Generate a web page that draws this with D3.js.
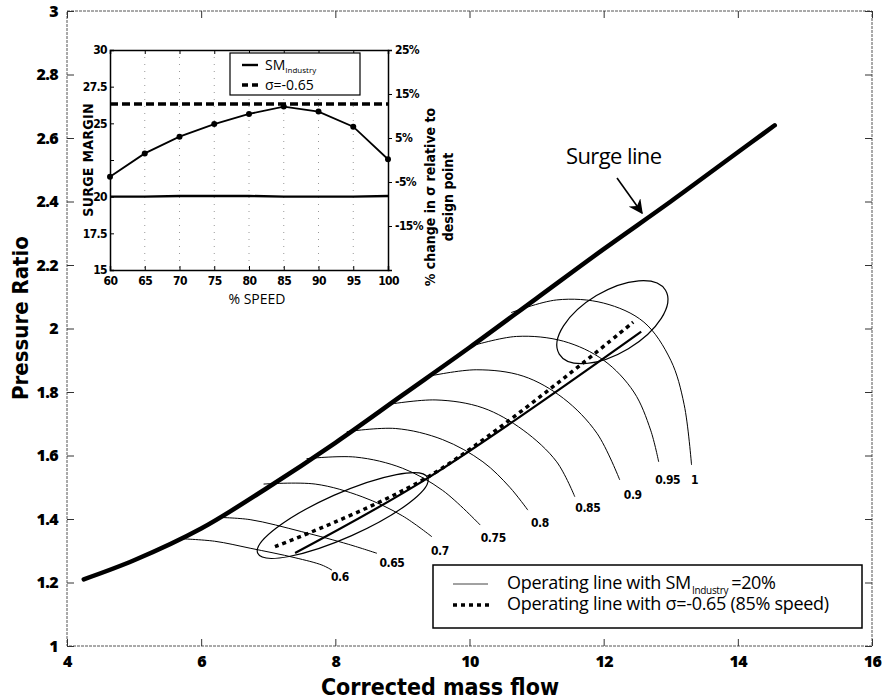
<!DOCTYPE html>
<html>
<head>
<meta charset="utf-8">
<script src="https://cdn.jsdelivr.net/npm/d3@7"></script>
<style>
  html, body { margin: 0; padding: 0; background: #fff; }
  svg { display: block; }
  text { fill: #000; }
</style>
</head>
<body>
<svg id="chart" width="884" height="700"></svg>
<script>
// ---------- compressor map data (corrected mass flow, pressure ratio) ----------
const xTicks = [4, 6, 8, 10, 12, 14, 16];
const yTicks = [1, 1.2, 1.4, 1.6, 1.8, 2, 2.2, 2.4, 2.6, 2.8, 3];

const surgeFlow  = [4.25, 5.0, 6.0, 7.0, 8.0, 9.0, 10.0, 11.0, 12.0, 13.0, 14.0, 14.55];
const surgeRatio = [1.21, 1.27, 1.37, 1.50, 1.64, 1.79, 1.94, 2.095, 2.25, 2.40, 2.555, 2.64];

const speedNames = ["0.6", "0.65", "0.7", "0.75", "0.8", "0.85", "0.9", "0.95", "1"];
const speedFlow = [
  [5.68, 6.2, 6.73, 7.4, 7.8, 7.95],
  [6.25, 6.73, 7.5, 8.2, 8.62],
  [6.93, 7.7, 8.4, 9.0, 9.44],
  [7.57, 8.3, 9.0, 9.6, 10.16],
  [8.17, 8.9, 9.6, 10.2, 10.6, 10.87],
  [8.76, 9.5, 10.2, 10.8, 11.3, 11.57],
  [9.4, 10.1, 10.8, 11.4, 11.9, 12.24],
  [10.03, 10.7, 11.4, 12.0, 12.45, 12.7, 12.82],
  [10.62, 11.3, 12.0, 12.6, 13.0, 13.2, 13.31]
];
const speedRatio = [
  [1.338, 1.33, 1.308, 1.278, 1.255, 1.239],
  [1.405, 1.398, 1.36, 1.32, 1.292],
  [1.51, 1.51, 1.47, 1.41, 1.344],
  [1.59, 1.595, 1.56, 1.49, 1.381],
  [1.675, 1.685, 1.65, 1.58, 1.50, 1.428],
  [1.76, 1.775, 1.75, 1.68, 1.58, 1.47],
  [1.85, 1.87, 1.85, 1.78, 1.67, 1.523],
  [1.945, 1.975, 1.96, 1.90, 1.80, 1.68, 1.58],
  [2.05, 2.09, 2.08, 2.02, 1.90, 1.76, 1.57]
];
// label placement relative to each speed line end, in pixels
const speedLabelDx = [8, 15, 8, 13, 12, 13, 13, 9, 3];
const speedLabelDy = [7, 10, 14, 13, 13, 11, 15, 18, 15];

// operating lines
const opIndustryFlow  = [7.4, 9.4, 12.56];
const opIndustryRatio = [1.293, 1.532, 1.99];
const opSigmaFlow  = [7.1, 9.4, 12.44];
const opSigmaRatio = [1.313, 1.535, 2.02];

// highlighted regions: centre (flow, ratio)
const regionFlow  = [8.11, 12.13];
const regionRatio = [1.411, 2.02];

// ---------- inset: surge margin vs % speed ----------
const pctSpeed = [60, 65, 70, 75, 80, 85, 90, 95, 100];
const smSigma   = [21.36, 22.95, 24.09, 24.95, 25.64, 26.14, 25.8, 24.77, 22.55];
const smIndustry = [20.0, 20.0, 20.05, 20.05, 20.05, 20.0, 20.0, 20.0, 20.05];
const sigmaChange = [12.7, 12.7, 12.7, 12.7, 12.7, 12.7, 12.7, 12.7, 12.7];
const insetLeftTicks = [15, 17.5, 20, 22.5, 25, 27.5, 30];
const insetLeftLabels = ["15", "17.5", "20", "", "25", "27.5", "30"];
const insetRightTicks = [-25, -15, -5, 5, 15, 25];
const insetRightLabels = ["", "-15%", "-5%", "5%", "15%", "25%"];

// ---------- drawing ----------
const svg = d3.select("#chart");
const M = { left: 67, right: 872, top: 11, bottom: 646 };
const x = d3.scaleLinear().domain([4, 16]).range([M.left, M.right]);
const y = d3.scaleLinear().domain([1, 3]).range([M.bottom, M.top]);

const boldFont = "'Open Sans', 'DejaVu Sans', sans-serif";
const narrowFont = "'Liberation Sans Narrow', 'DejaVu Sans Condensed', 'Liberation Sans', sans-serif";

// frame
svg.append("rect").attr("x", M.left).attr("y", M.top)
  .attr("width", M.right - M.left).attr("height", M.bottom - M.top)
  .attr("fill", "none").attr("stroke", "#555").attr("stroke-width", 1).attr("stroke-dasharray", "3,1");

// axes with inward ticks
const axB = d3.axisBottom(x).tickValues(xTicks).tickSize(-7).tickPadding(10).tickFormat(d3.format("d"));
const axT = d3.axisTop(x).tickValues(xTicks).tickSize(-7).tickFormat("");
const axL = d3.axisLeft(y).tickValues(yTicks).tickSize(-7).tickPadding(9).tickFormat(d => d3.format("")(d));
const axR = d3.axisRight(y).tickValues(yTicks).tickSize(-7).tickFormat("");

function styleAxis(g) {
  g.select(".domain").remove();
  g.selectAll(".tick line").attr("stroke", "#333");
  g.selectAll(".tick text").attr("font-family", boldFont).attr("font-weight", 800)
    .attr("font-size", 16).attr("letter-spacing", -0.6).attr("fill", "#000");
}
svg.append("g").attr("transform", `translate(0,${M.bottom})`).call(axB).call(styleAxis);
svg.append("g").attr("transform", `translate(0,${M.top})`).call(axT).call(styleAxis);
svg.append("g").attr("transform", `translate(${M.left},0)`).call(axL).call(styleAxis);
svg.append("g").attr("transform", `translate(${M.right},0)`).call(axR).call(styleAxis);

svg.append("text").attr("x", 440).attr("y", 695).attr("text-anchor", "middle")
  .attr("font-family", narrowFont).attr("font-weight", "bold").attr("font-size", 23)
  .text("Corrected mass flow");
svg.append("text").attr("transform", "translate(28,318) rotate(-90)").attr("text-anchor", "middle")
  .attr("font-family", narrowFont).attr("font-weight", "bold").attr("font-size", 22)
  .text("Pressure Ratio");

const line = (xs, ys, curve) => d3.line().x(d => x(d[0])).y(d => y(d[1])).curve(curve || d3.curveLinear)(d3.zip(xs, ys));

// speed lines
speedFlow.forEach((fl, i) => {
  svg.append("path").attr("d", line(fl, speedRatio[i], d3.curveCatmullRom.alpha(0.5)))
    .attr("fill", "none").attr("stroke", "#000").attr("stroke-width", 1);
  const n = fl.length - 1;
  svg.append("text").attr("x", x(fl[n]) + speedLabelDx[i]).attr("y", y(speedRatio[i][n]) + speedLabelDy[i])
    .attr("text-anchor", "middle").attr("dominant-baseline", "central")
    .attr("font-family", narrowFont).attr("font-weight", "bold")
    .attr("font-size", 12).attr("letter-spacing", -0.4).text(speedNames[i]);
});

// surge line
svg.append("path").attr("d", line(surgeFlow, surgeRatio, d3.curveCatmullRom.alpha(0.5)))
  .attr("fill", "none").attr("stroke", "#000").attr("stroke-width", 4.5).attr("stroke-linecap", "round");

// operating lines
svg.append("path").attr("d", line(opIndustryFlow, opIndustryRatio, d3.curveCatmullRom))
  .attr("fill", "none").attr("stroke", "#000").attr("stroke-width", 2.2);
svg.append("path").attr("d", line(opSigmaFlow, opSigmaRatio, d3.curveCatmullRom))
  .attr("fill", "none").attr("stroke", "#000").attr("stroke-width", 3.5).attr("stroke-dasharray", "4,4");

// highlighted regions
const regionShape = [{ rx: 93, ry: 22, rot: -24 }, { rx: 62, ry: 31, rot: -31 }];
regionFlow.forEach((f, i) => {
  svg.append("ellipse").attr("cx", 0).attr("cy", 0)
    .attr("rx", regionShape[i].rx).attr("ry", regionShape[i].ry)
    .attr("transform", `translate(${x(f)},${y(regionRatio[i])}) rotate(${regionShape[i].rot})`)
    .attr("fill", "none").attr("stroke", "#000").attr("stroke-width", 1.2);
});

// surge line annotation
svg.append("defs").append("marker").attr("id", "arrow").attr("viewBox", "0 0 10 10")
  .attr("refX", 9).attr("refY", 5).attr("markerWidth", 9).attr("markerHeight", 9)
  .attr("orient", "auto").append("path").attr("d", "M0,0 L10,5 L0,10 L3,5 Z").attr("fill", "#000");
svg.append("text").attr("x", 566).attr("y", 164).attr("font-family", boldFont).attr("font-weight", 500)
  .attr("font-size", 22).attr("letter-spacing", -0.6).text("Surge line");
svg.append("line").attr("x1", 617).attr("y1", 178).attr("x2", 642).attr("y2", 213)
  .attr("stroke", "#000").attr("stroke-width", 1.6).attr("marker-end", "url(#arrow)");

// main legend
const lg = svg.append("g");
lg.append("rect").attr("x", 433).attr("y", 565).attr("width", 429).attr("height", 63)
  .attr("fill", "#fff").attr("stroke", "#000").attr("stroke-width", 1.5);
lg.append("line").attr("x1", 453).attr("x2", 488).attr("y1", 584).attr("y2", 584)
  .attr("stroke", "#444").attr("stroke-width", 1);
lg.append("line").attr("x1", 453).attr("x2", 490).attr("y1", 605).attr("y2", 605)
  .attr("stroke", "#000").attr("stroke-width", 3.5).attr("stroke-dasharray", "4,4");
const t1 = lg.append("text").attr("x", 507).attr("y", 589).attr("font-family", boldFont).attr("font-size", 18)
  .attr("letter-spacing", -0.3);
t1.append("tspan").text("Operating line with SM");
t1.append("tspan").attr("font-size", 10).attr("dx", 1).attr("dy", 5).text("Industry");
t1.append("tspan").attr("dx", 3).attr("dy", -5).text("=20%");
lg.append("text").attr("x", 507).attr("y", 610).attr("font-family", boldFont).attr("font-size", 18)
  .attr("letter-spacing", -0.3).text("Operating line with σ=-0.65  (85% speed)");

// ---------- inset ----------
const I = { left: 110, right: 388, top: 50, bottom: 270 };
const ix = d3.scaleLinear().domain([60, 100]).range([I.left, I.right]);
const iy = d3.scaleLinear().domain([15, 30]).range([I.bottom, I.top]);
const iy2 = d3.scaleLinear().domain([-25, 25]).range([I.bottom, I.top]);
const inset = svg.append("g");

inset.append("rect").attr("x", I.left).attr("y", I.top).attr("width", I.right - I.left)
  .attr("height", I.bottom - I.top).attr("fill", "#fff");

// vertical dotted grid
inset.append("g").selectAll("line").data(pctSpeed.slice(1, -1)).join("line")
  .attr("x1", d => ix(d)).attr("x2", d => ix(d)).attr("y1", I.top).attr("y2", I.bottom)
  .attr("stroke", "#999").attr("stroke-width", 1).attr("stroke-dasharray", "1,6");

const insetTickFont = g => g.selectAll(".tick text").attr("font-family", narrowFont)
  .attr("font-weight", "bold").attr("font-size", 12).attr("letter-spacing", -0.6).attr("fill", "#000");

inset.append("g").attr("transform", `translate(0,${I.bottom})`)
  .call(d3.axisBottom(ix).tickValues(pctSpeed).tickSize(-4).tickPadding(6))
  .call(g => { g.select(".domain").attr("stroke", "#000").attr("stroke-width", 1.5); insetTickFont(g); });
inset.append("g").attr("transform", `translate(0,${I.top})`)
  .call(d3.axisTop(ix).tickValues(pctSpeed).tickSize(-4).tickFormat(""))
  .call(g => g.select(".domain").attr("stroke", "#000").attr("stroke-width", 1.5));
inset.append("g").attr("transform", `translate(${I.left},0)`)
  .call(d3.axisLeft(iy).tickValues(insetLeftTicks).tickSize(-4).tickPadding(3)
    .tickFormat((d, i) => insetLeftLabels[i]))
  .call(g => { g.select(".domain").attr("stroke", "#000").attr("stroke-width", 1.5); insetTickFont(g); });
inset.append("g").attr("transform", `translate(${I.right},0)`)
  .call(d3.axisRight(iy2).tickValues(insetRightTicks).tickSize(4).tickPadding(3)
    .tickFormat((d, i) => insetRightLabels[i]))
  .call(g => { g.select(".domain").attr("stroke", "#000").attr("stroke-width", 1.5); insetTickFont(g); });

const iline = (xs, ys, sc) => d3.line().x(d => ix(d[0])).y(d => sc(d[1]))(d3.zip(xs, ys));
inset.append("path").attr("d", iline(pctSpeed, smIndustry, iy)).attr("fill", "none")
  .attr("stroke", "#000").attr("stroke-width", 2.4);
inset.append("path").attr("d", iline(pctSpeed, sigmaChange, iy2)).attr("fill", "none")
  .attr("stroke", "#000").attr("stroke-width", 3.5).attr("stroke-dasharray", "8,4");
inset.append("path").attr("d", iline(pctSpeed, smSigma, iy)).attr("fill", "none")
  .attr("stroke", "#000").attr("stroke-width", 1.8);
inset.append("g").selectAll("circle").data(d3.zip(pctSpeed, smSigma)).join("circle")
  .attr("cx", d => ix(d[0])).attr("cy", d => iy(d[1])).attr("r", 3).attr("fill", "#000");

// inset legend
const il = inset.append("g");
il.append("rect").attr("x", 230).attr("y", 53).attr("width", 130).attr("height", 42)
  .attr("fill", "#fff").attr("stroke", "#000").attr("stroke-width", 1.2);
il.append("line").attr("x1", 242).attr("x2", 258).attr("y1", 65).attr("y2", 65)
  .attr("stroke", "#000").attr("stroke-width", 2.4);
il.append("line").attr("x1", 242).attr("x2", 260).attr("y1", 85).attr("y2", 85)
  .attr("stroke", "#000").attr("stroke-width", 3.5).attr("stroke-dasharray", "6,4");
const it1 = il.append("text").attr("x", 265).attr("y", 70).attr("font-family", boldFont).attr("font-size", 14);
it1.append("tspan").text("SM");
it1.append("tspan").attr("font-size", 8).attr("dy", 3).text("Industry");
il.append("text").attr("x", 265).attr("y", 90).attr("font-family", boldFont).attr("font-size", 14)
  .text("σ=-0.65");

// inset axis titles
inset.append("text").attr("x", 257).attr("y", 304).attr("text-anchor", "middle")
  .attr("font-family", boldFont).attr("font-size", 14).text("% SPEED");
inset.append("text").attr("transform", "translate(88,160) rotate(-90)").attr("text-anchor", "middle")
  .attr("dominant-baseline", "central")
  .attr("font-family", narrowFont).attr("font-weight", "bold").attr("font-size", 14)
  .attr("letter-spacing", 0.3).text("SURGE MARGIN");
const rt = inset.append("text").attr("transform", "translate(430,197) rotate(-90)").attr("text-anchor", "middle")
  .attr("dominant-baseline", "central")
  .attr("font-family", narrowFont).attr("font-weight", "bold").attr("font-size", 14);
rt.append("tspan").attr("x", 0).attr("dy", 0).text("% change in σ relative to");
rt.append("tspan").attr("x", 0).attr("dy", 18).text("design point");
</script>
</body>
</html>
